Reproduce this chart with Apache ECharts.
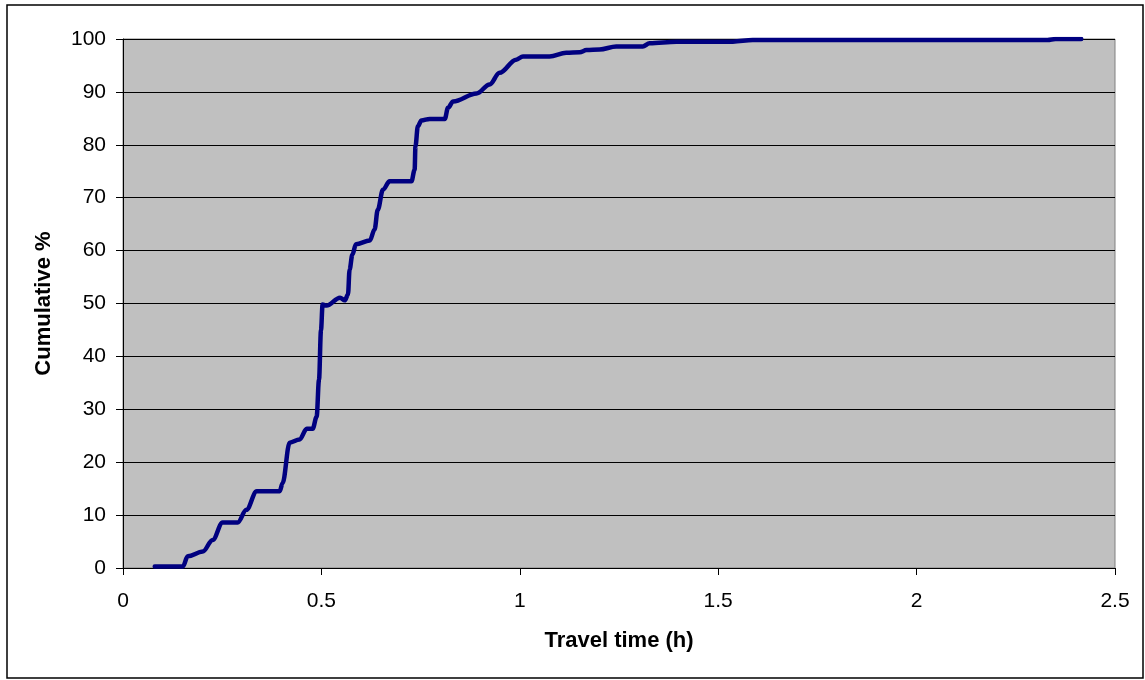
<!DOCTYPE html>
<html style="height: 100%">
<head>
    <meta charset="utf-8">
</head>
<body style="height: 100%; margin: 0; background: #fff">
<div id="container" style="width: 1145px; height: 680px"></div>

<script type="text/javascript" src="https://cdn.jsdelivr.net/npm/echarts@6/dist/echarts.min.js"></script>
<script type="text/javascript">
    // travel time (h) and cumulative share of trips (%)
    var travelTime = [
      0.08, 0.151, 0.163, 0.201, 0.226, 0.251, 0.289, 0.311, 0.337, 0.395,
      0.402, 0.42, 0.445, 0.463, 0.478, 0.488, 0.494, 0.499, 0.503, 0.513,
      0.547, 0.559, 0.567, 0.571, 0.578, 0.587, 0.622, 0.634, 0.642, 0.655,
      0.672, 0.727, 0.735, 0.737, 0.743, 0.752, 0.773, 0.811, 0.819, 0.832,
      0.891, 0.924, 0.949, 0.991, 1.008, 1.075, 1.117, 1.151, 1.168, 1.201,
      1.243, 1.31, 1.327, 1.395, 1.537, 1.587, 1.62, 2.33, 2.35, 2.415
    ];
    var cumulative = [
      0.3, 0.3, 2.2, 3.1, 5.3, 8.6, 8.6, 11.0, 14.5, 14.5,
      16.0, 23.7, 24.3, 26.3, 26.3, 28.6, 35.6, 45.0, 49.8, 49.6,
      51.1, 50.6, 51.7, 56.4, 59.2, 61.2, 61.9, 64.0, 67.7, 71.5,
      73.1, 73.1, 75.3, 79.7, 83.5, 84.6, 84.9, 84.9, 87.0, 88.2,
      89.7, 91.4, 93.6, 96.1, 96.7, 96.7, 97.4, 97.5, 97.9, 98.0,
      98.6, 98.6, 99.2, 99.5, 99.5, 99.8, 99.8, 99.8, 100, 100
    ];
    var xTitle = 'Travel time (h)';
    var yTitle = 'Cumulative %';

    var dom = document.getElementById('container');
    var myChart = echarts.init(dom, null, { renderer: 'canvas' });

    var points = travelTime.map(function (t, i) {
      return [t, cumulative[i]];
    });

    var font = 'Liberation Sans, Arial, sans-serif';

    var option = {
      animation: false,
      textStyle: { fontFamily: font },
      grid: {
        left: 123,
        right: 30,
        top: 39,
        bottom: 112,
        show: true,
        backgroundColor: '#c0c0c0',
        borderColor: '#808080',
        borderWidth: 1
      },
      graphic: [
        {
          type: 'rect',
          shape: { x: 7, y: 5, width: 1136, height: 673 },
          style: { fill: null, stroke: '#000', lineWidth: 1.5 },
          silent: true
        }
      ],
      xAxis: {
        type: 'value',
        min: 0,
        max: 2.5,
        interval: 0.5,
        name: xTitle,
        nameLocation: 'middle',
        nameGap: 62,
        nameTextStyle: { fontSize: 22, fontWeight: 'bold', color: '#000', fontFamily: font },
        axisLine: { show: true, onZero: false, lineStyle: { color: '#000', width: 1 } },
        axisTick: { show: true, inside: false, length: 7, lineStyle: { color: '#000' } },
        axisLabel: { fontSize: 21, color: '#000', margin: 23, fontFamily: font },
        splitLine: { show: false }
      },
      yAxis: {
        type: 'value',
        min: 0,
        max: 100,
        interval: 10,
        name: yTitle,
        nameLocation: 'middle',
        nameGap: 68,
        nameTextStyle: { fontSize: 22, fontWeight: 'bold', color: '#000', fontFamily: font },
        axisLine: { show: true, lineStyle: { color: '#000', width: 1 } },
        axisTick: { show: true, inside: false, length: 7, lineStyle: { color: '#000' } },
        axisLabel: { fontSize: 21, color: '#000', margin: 17, fontFamily: font },
        splitLine: { show: true, lineStyle: { color: '#000', width: 1 } }
      },
      series: [
        {
          type: 'line',
          data: points,
          showSymbol: false,
          smooth: 0.35,
          smoothMonotone: 'x',
          clip: true,
          lineStyle: { color: '#000080', width: 4.5, join: 'round', cap: 'round' }
        }
      ]
    };

    myChart.setOption(option);
    window.addEventListener('resize', myChart.resize);
</script>
</body>
</html>
